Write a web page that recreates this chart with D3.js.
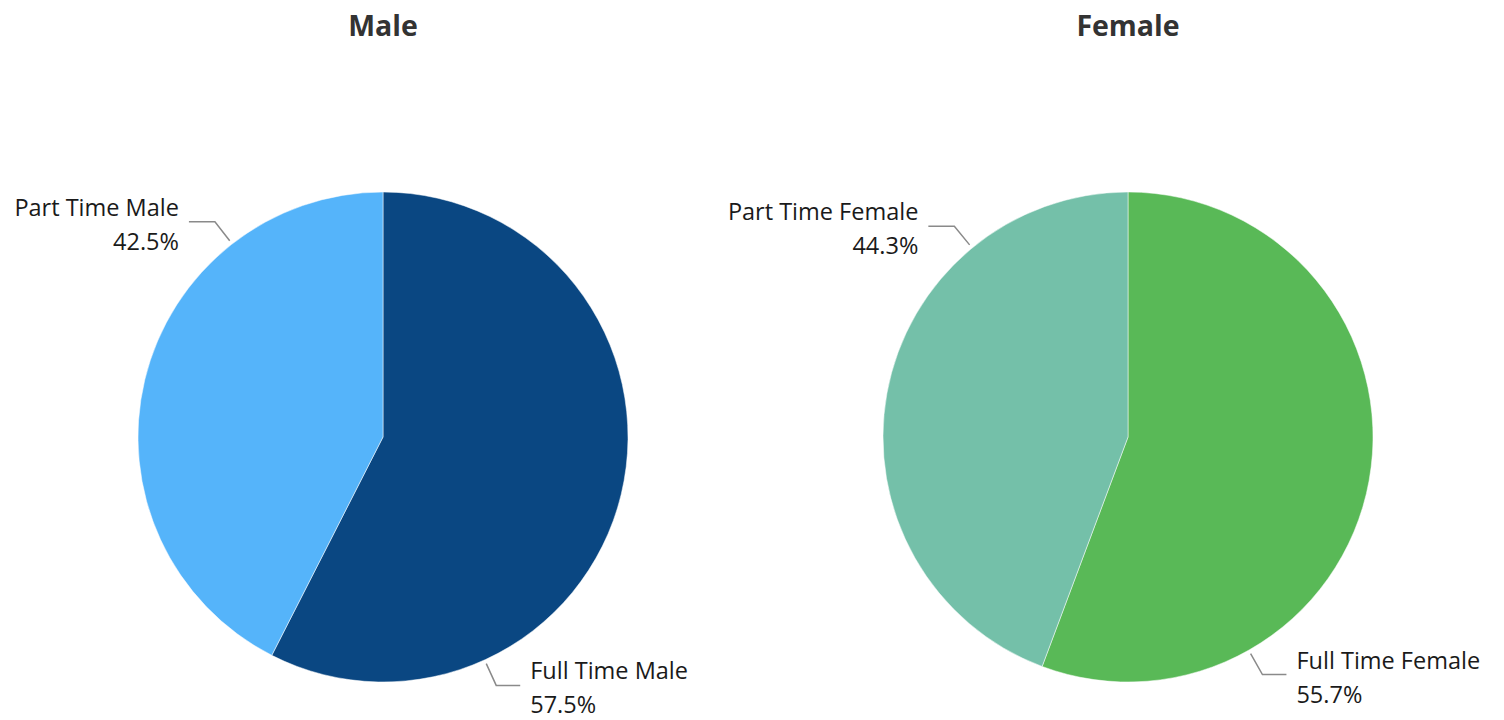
<!DOCTYPE html>
<html>
<head>
<meta charset="utf-8">
<script src="https://cdn.jsdelivr.net/npm/d3@7"></script>
<style>
  body { margin: 0; background: #fff; }
  svg { display: block; font-family: 'Open Sans', 'Noto Sans', sans-serif; }
</style>
</head>
<body>
<svg id="chart"></svg>
<script>
// data
const genders = ['Male', 'Female'];
const categories = ['Full Time', 'Part Time'];
const maleValues = [57.5, 42.5];
const femaleValues = [55.7, 44.3];
const colours = {
  Male: ['#0a4782', '#55b4fa'],
  Female: ['#59b957', '#74c0a9'],
};

const width = 1504;
const height = 720;

const svg = d3.select('#chart').attr('width', width).attr('height', height);

// layout: pie centres and where the leader lines leave each pie (degrees clockwise from top)
const centres = { Male: [383, 437], Female: [1128, 437] };
const radius = 245;
const leaderAngle = { Male: [155.5, 322], Female: [150.5, 320.5] };

const pie = d3.pie().sort(null).value((d) => d.value);
const arc = d3.arc().innerRadius(0).outerRadius(radius);

genders.forEach((g, gi) => {
  const values = gi === 0 ? maleValues : femaleValues;
  const rows = categories.map((c, i) => ({ name: `${c} ${g}`, value: values[i], colour: colours[g][i] }));
  const [cx, cy] = centres[g];
  const grp = svg.append('g').attr('transform', `translate(${cx},${cy})`);

  svg
    .append('text')
    .attr('x', cx)
    .attr('y', 36)
    .attr('text-anchor', 'middle')
    .attr('font-size', 28.5)
    .attr('font-weight', 'bold')
    .attr('fill', '#333')
    .text(g);

  const arcs = pie(rows);

  grp
    .selectAll('path.slice')
    .data(arcs)
    .join('path')
    .attr('class', 'slice')
    .attr('d', arc)
    .attr('fill', (d) => d.data.colour)
    .attr('stroke', '#fff')
    .attr('stroke-width', 0.5);

  arcs.forEach((d, i) => {
    const a = (leaderAngle[g][i] * Math.PI) / 180;
    const p0 = [Math.sin(a) * (radius + 4), -Math.cos(a) * (radius + 4)];
    const p1 = [Math.sin(a) * (radius + 28), -Math.cos(a) * (radius + 28)];
    const right = Math.sin(a) > 0;
    const p2 = [p1[0] + (right ? 24 : -26), p1[1]];

    grp
      .append('polyline')
      .attr('points', [p0, p1, p2].map((p) => p.join(',')).join(' '))
      .attr('fill', 'none')
      .attr('stroke', '#8a8a8a')
      .attr('stroke-width', 1.5);

    const tx = p2[0] + (right ? 10 : -10);
    const t = grp
      .append('text')
      .attr('text-anchor', right ? 'start' : 'end')
      .attr('font-size', 23.5)
      .attr('fill', '#1a1a1a');
    t.append('tspan').attr('x', tx).attr('y', p2[1] - 6).text(d.data.name);
    t.append('tspan').attr('x', tx).attr('y', p2[1] + 28).text(d3.format('.1f')(d.data.value) + '%');
  });
});
</script>
</body>
</html>
